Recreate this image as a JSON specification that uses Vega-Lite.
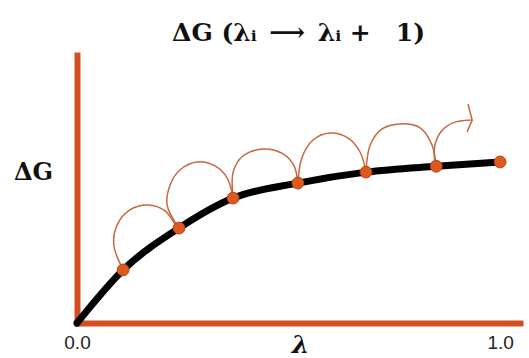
{
  "$schema": "https://vega.github.io/schema/vega-lite/v6.json",
  "autosize": {"type": "none"},
  "width": 443,
  "height": 268,
  "padding": {"left": 77, "top": 55, "right": 9, "bottom": 35},
  "background": "white",
  "config": {"view": {"stroke": null}},
  "title": {
    "text": "ΔG (λ\u1d62\u2002\u27f6\u2002λ\u1d62 +\u20031)",
    "font": "DejaVu Serif",
    "fontSize": 25,
    "fontWeight": "bold",
    "color": "#111111",
    "anchor": "middle",
    "frame": "group",
    "offset": 9
  },
  "datasets": {
    "curve": [
      {"lambda": 0.0, "dG": 0.0},
      {"lambda": 0.109, "dG": 0.198},
      {"lambda": 0.241, "dG": 0.354},
      {"lambda": 0.369, "dG": 0.466},
      {"lambda": 0.522, "dG": 0.522},
      {"lambda": 0.683, "dG": 0.563},
      {"lambda": 0.849, "dG": 0.585},
      {"lambda": 1.0, "dG": 0.601}
    ],
    "states": [
      {"lambda": 0.109, "dG": 0.198},
      {"lambda": 0.241, "dG": 0.354},
      {"lambda": 0.369, "dG": 0.466},
      {"lambda": 0.522, "dG": 0.522},
      {"lambda": 0.683, "dG": 0.563},
      {"lambda": 0.849, "dG": 0.585},
      {"lambda": 1.0, "dG": 0.601}
    ],
    "hops": [
      {"hop": 1, "i": 0, "lambda": 0.109, "dG": 0.198},
      {"hop": 1, "i": 1, "lambda": 0.087, "dG": 0.291},
      {"hop": 1, "i": 2, "lambda": 0.095, "dG": 0.366},
      {"hop": 1, "i": 3, "lambda": 0.125, "dG": 0.422},
      {"hop": 1, "i": 4, "lambda": 0.168, "dG": 0.44},
      {"hop": 1, "i": 5, "lambda": 0.208, "dG": 0.418},
      {"hop": 1, "i": 6, "lambda": 0.232, "dG": 0.369},
      {"hop": 1, "i": 7, "lambda": 0.241, "dG": 0.354},
      {"hop": 2, "i": 0, "lambda": 0.241, "dG": 0.354},
      {"hop": 2, "i": 1, "lambda": 0.213, "dG": 0.44},
      {"hop": 2, "i": 2, "lambda": 0.22, "dG": 0.515},
      {"hop": 2, "i": 3, "lambda": 0.243, "dG": 0.571},
      {"hop": 2, "i": 4, "lambda": 0.284, "dG": 0.601},
      {"hop": 2, "i": 5, "lambda": 0.326, "dG": 0.586},
      {"hop": 2, "i": 6, "lambda": 0.355, "dG": 0.541},
      {"hop": 2, "i": 7, "lambda": 0.369, "dG": 0.466},
      {"hop": 3, "i": 0, "lambda": 0.369, "dG": 0.466},
      {"hop": 3, "i": 1, "lambda": 0.369, "dG": 0.563},
      {"hop": 3, "i": 2, "lambda": 0.392, "dG": 0.623},
      {"hop": 3, "i": 3, "lambda": 0.44, "dG": 0.649},
      {"hop": 3, "i": 4, "lambda": 0.487, "dG": 0.631},
      {"hop": 3, "i": 5, "lambda": 0.513, "dG": 0.586},
      {"hop": 3, "i": 6, "lambda": 0.522, "dG": 0.522},
      {"hop": 4, "i": 0, "lambda": 0.522, "dG": 0.522},
      {"hop": 4, "i": 1, "lambda": 0.532, "dG": 0.619},
      {"hop": 4, "i": 2, "lambda": 0.558, "dG": 0.683},
      {"hop": 4, "i": 3, "lambda": 0.598, "dG": 0.709},
      {"hop": 4, "i": 4, "lambda": 0.641, "dG": 0.69},
      {"hop": 4, "i": 5, "lambda": 0.669, "dG": 0.638},
      {"hop": 4, "i": 6, "lambda": 0.683, "dG": 0.563},
      {"hop": 5, "i": 0, "lambda": 0.683, "dG": 0.563},
      {"hop": 5, "i": 1, "lambda": 0.693, "dG": 0.664},
      {"hop": 5, "i": 2, "lambda": 0.721, "dG": 0.724},
      {"hop": 5, "i": 3, "lambda": 0.764, "dG": 0.743},
      {"hop": 5, "i": 4, "lambda": 0.811, "dG": 0.728},
      {"hop": 5, "i": 5, "lambda": 0.839, "dG": 0.664},
      {"hop": 5, "i": 6, "lambda": 0.849, "dG": 0.585},
      {"hop": 6, "i": 0, "lambda": 0.849, "dG": 0.585},
      {"hop": 6, "i": 1, "lambda": 0.844, "dG": 0.646},
      {"hop": 6, "i": 2, "lambda": 0.858, "dG": 0.709},
      {"hop": 6, "i": 3, "lambda": 0.887, "dG": 0.746},
      {"hop": 6, "i": 4, "lambda": 0.934, "dG": 0.757}
    ],
    "arrowhead": [
      {"i": 0, "lambda": 0.924, "dG": 0.817},
      {"i": 1, "lambda": 0.934, "dG": 0.757},
      {"i": 2, "lambda": 0.922, "dG": 0.713}
    ]
  },
  "encoding": {
    "x": {
      "field": "lambda",
      "type": "quantitative",
      "scale": {"domain": [0, 1.047], "nice": false, "zero": false},
      "axis": {
        "values": [0, 1],
        "format": ".1f",
        "grid": false,
        "ticks": false,
        "domainColor": "#D2501F",
        "domainWidth": 6,
        "domainCap": "square",
        "labelFont": "Liberation Sans",
        "labelFontSize": 19,
        "labelColor": "#222222",
        "labelPadding": 10,
        "labelFlush": false,
        "labelOverlap": false,
        "title": "λ",
        "titleFont": "DejaVu Serif",
        "titleFontSize": 25,
        "titleFontWeight": "bold",
        "titleFontStyle": "italic",
        "titleColor": "#111111",
        "titleAlign": "center",
        "titleBaseline": "middle",
        "titleX": 223,
        "titleY": 21
      }
    },
    "y": {
      "field": "dG",
      "type": "quantitative",
      "scale": {"domain": [0, 1], "nice": false},
      "axis": {
        "grid": false,
        "ticks": false,
        "labels": false,
        "domainColor": "#D2501F",
        "domainWidth": 6,
        "domainCap": "square",
        "title": "ΔG",
        "titleFont": "DejaVu Serif",
        "titleFontSize": 24,
        "titleFontWeight": "bold",
        "titleColor": "#111111",
        "titleAngle": 0,
        "titleAlign": "center",
        "titleBaseline": "middle",
        "titleX": -44,
        "titleY": 117
      }
    }
  },
  "layer": [
    {
      "data": {"name": "curve"},
      "mark": {"type": "line", "color": "#000000", "strokeWidth": 7, "strokeCap": "round", "interpolate": "monotone"}
    },
    {
      "data": {"name": "hops"},
      "mark": {"type": "line", "color": "#C8663E", "strokeWidth": 1.5, "interpolate": "catmull-rom"},
      "encoding": {
        "detail": {"field": "hop", "type": "nominal"},
        "order": {"field": "i", "type": "quantitative"}
      }
    },
    {
      "data": {"name": "arrowhead"},
      "mark": {"type": "line", "color": "#C8663E", "strokeWidth": 1.5, "interpolate": "linear"},
      "encoding": {
        "order": {"field": "i", "type": "quantitative"}
      }
    },
    {
      "data": {"name": "states"},
      "mark": {"type": "point", "filled": true, "size": 140, "color": "#DD5A1E", "stroke": "#B8441A", "strokeWidth": 1, "opacity": 1}
    }
  ]
}
